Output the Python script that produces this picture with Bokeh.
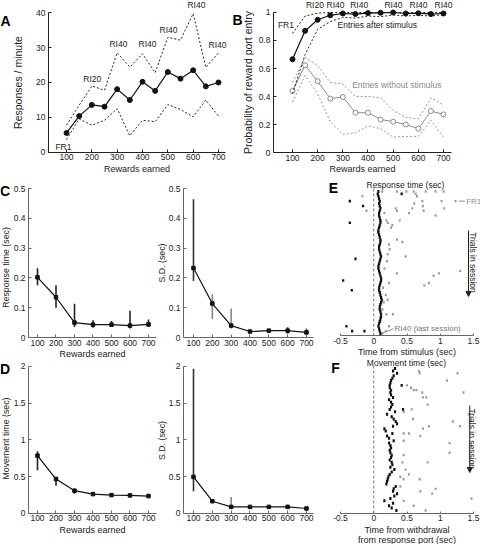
import math
from bokeh.plotting import figure
from bokeh.layouts import row, column
from bokeh.models import Range1d, Label, FixedTicker, Arrow, NormalHead
from bokeh.embed import file_html
from bokeh.resources import INLINE

FONT = "Liberation Sans"

# ---------------- data ----------------
rewards_ab = [100, 150, 200, 250, 300, 350, 400, 450, 500, 550, 600, 650, 700]
a_rate = [5.6, 10.4, 13.6, 13.1, 18.1, 15.0, 20.2, 17.6, 23.0, 21.1, 23.5, 18.9, 20.0]
a_upper = [7.8, 13.5, 19.0, 17.8, 28.5, 24.4, 28.2, 22.8, 32.9, 32.1, 39.7, 24.3, 28.5]
a_lower = [3.7, 9.6, 7.8, 9.2, 12.5, 4.8, 9.2, 8.8, 13.7, 12.3, 10.2, 15.0, 10.4]

b_after = [0.666, 0.869, 0.948, 0.980, 0.993, 0.989, 0.996, 0.998, 1.0, 0.993, 0.995, 0.989, 0.993]
b_after_hi = [0.85, 0.975, 0.995, 1.0, 1.0, 1.0, 1.0, 1.0, 1.0, 1.0, 1.0, 1.0, 1.0]
b_after_lo = [0.42, 0.70, 0.88, 0.935, 0.965, 0.96, 0.975, 0.97, 0.982, 0.975, 0.98, 0.975, 0.985]
b_without = [0.44, 0.623, 0.509, 0.385, 0.396, 0.284, 0.284, 0.236, 0.22, 0.2, 0.17, 0.296, 0.272]
b_without_hi = [0.50, 0.68, 0.62, 0.50, 0.49, 0.40, 0.40, 0.39, 0.30, 0.25, 0.24, 0.39, 0.34]
b_without_lo = [0.36, 0.55, 0.42, 0.22, 0.13, 0.14, 0.19, 0.17, 0.11, 0.115, 0.115, 0.23, 0.11]

a_labels = ["FR1", "RI20", "RI40", "RI40", "RI40", "RI40", "RI40"]
b_labels = ["RI20", "RI40", "RI40", "RI40", "RI40", "RI40"]

rewards_cd = [100, 200, 300, 400, 500, 600, 700]
c_rt = [0.202, 0.135, 0.050, 0.043, 0.043, 0.040, 0.044]
c_rt_lo = [0.175, 0.100, 0.035, 0.033, 0.035, 0.030, 0.035]
c_rt_hi = [0.232, 0.175, 0.113, 0.058, 0.055, 0.090, 0.060]
c_sd = [0.233, 0.114, 0.040, 0.020, 0.023, 0.023, 0.017]
c_sd_lo = [0.190, 0.062, 0.030, 0.015, 0.018, 0.012, 0.010]
c_sd_hi = [0.464, 0.145, 0.097, 0.025, 0.028, 0.035, 0.030]
d_mt = [0.787, 0.469, 0.310, 0.264, 0.250, 0.246, 0.237]
d_mt_lo = [0.590, 0.378, 0.270, 0.250, 0.240, 0.230, 0.220]
d_mt_hi = [0.846, 0.500, 0.340, 0.280, 0.262, 0.262, 0.270]
d_sd = [0.498, 0.167, 0.090, 0.090, 0.090, 0.090, 0.068]
d_sd_lo = [0.303, 0.150, 0.080, 0.080, 0.080, 0.070, 0.060]
d_sd_hi = [1.970, 0.185, 0.226, 0.100, 0.100, 0.120, 0.080]

# raster E: first entry after stimulus for trials 1..60 (black)
e_first = [0.07, 0.06, 0.07, 0.08, 0.09, 0.08, 0.09, 0.10, 0.09, 0.08,
           0.08, 0.09, 0.10, 0.10, 0.09, 0.08, 0.07, 0.07, 0.08, 0.09,
           0.10, 0.10, 0.09, 0.08, 0.08, 0.09, 0.10, 0.11, 0.10, 0.09,
           0.08, 0.07, 0.07, 0.08, 0.09, 0.10, 0.11, 0.11, 0.10, 0.09,
           0.08, 0.08, 0.09, 0.10, 0.11, 0.12, 0.11, 0.10, 0.09, 0.09,
           0.10, 0.11, 0.11, 0.10, 0.09, 0.08, 0.07, 0.08, 0.09, 0.10]
e_black_trial = [2, 5, 7, 14, 29, 38, 42, 57, 59, 59]
e_black_time = [0.42, -0.36, -0.16, -0.36, -0.275, -0.46, -0.33, -0.41, -0.325, -0.14]
e_gray_trial = [3, 9, 1, 1, 1, 2, 3, 1, 1, 6, 5, 7, 9, 11, 10, 13, 14, 8, 9, 13,
                16, 21, 22, 23, 25, 27, 28, 30, 35, 33, 34, 39, 39, 40, 41, 44, 46, 47, 50, 52,
                53, 52, 55, 57, 59, 60, 5, 5, 8, 10, 8, 1, 1, 15, 36, 35]
e_gray_time = [-0.17, -0.11, 0.126, 0.35, 0.49, 0.63, 0.65, 0.78, 0.93, 0.61, 0.73, 0.74, 0.75, 0.93, 0.16, 0.19, 0.21, 0.33, 0.35, 0.39,
               0.26, 0.35, 0.43, 0.23, 0.24, 0.21, 0.48, 0.20, 0.35, 0.16, 1.30, 0.23, 0.83, 0.76, 0.14, 0.18, 0.21, 0.15, 0.13, 0.19,
               0.10, 0.29, 0.10, 0.23, 0.18, 0.13, 1.23, 1.02, 1.06, 0.53, 0.58, 0.60, 1.05, 0.28, 0.90, 0.98]

# raster F: movement times (black) and later entries (gray)
f_first = [0.32, 0.29, 0.35, 0.30, 0.28, 0.26, 0.25, 0.24, 0.24, 0.26,
           0.25, 0.26, 0.29, 0.23, 0.26, 0.28, 0.26, 0.24, 0.32, 0.20,
           0.27, 0.30, 0.33, 0.35, 0.29, 0.16, 0.18, 0.28, 0.20, 0.23,
           0.30, 0.23, 0.25, 0.26, 0.24, 0.25, 0.27, 0.26, 0.24, 0.27,
           0.28, 0.25, 0.31, 0.27, 0.24, 0.22, 0.21, 0.20, 0.19, 0.33,
           0.30, 0.29, 0.35, 0.31, 0.25, 0.16, 0.29, 0.23, 0.27, 0.34]
f_black_trial = [8, 18]
f_black_time = [0.42, 0.44]
f_gray_trial = [2, 3, 3, 6, 8, 9, 10, 10, 11, 13, 13, 16, 11, 19, 18, 22, 23, 25, 20, 28,
                28, 26, 25, 29, 31, 32, 36, 37, 40, 40, 43, 45, 46, 47, 47, 50, 51, 53, 52, 55,
                56, 58, 60]
f_gray_time = [0.68, 0.69, 1.26, 1.10, 0.50, 0.56, 0.60, 0.64, 0.73, 0.79, 0.74, 0.81, 1.35, 0.45, 0.57, 0.59, 1.19, 1.30, 1.43, 0.45,
               0.53, 0.74, 0.83, 0.70, 0.45, 1.14, 1.14, 0.45, 0.43, 0.81, 0.48, 0.53, 0.40, 0.45, 0.69, 0.40, 0.93, 0.88, 0.70, 1.47,
               0.45, 0.60, 0.78]

trials = list(range(1, 61))

ticks_rewards = [100, 200, 300, 400, 500, 600, 700]
tick_rewards_labels = ["100", "200", "300", "400", "500", "600", "700"]
ticks_a_y = [0, 10, 20, 30, 40]
ticks_a_y_labels = ["0", "10", "20", "30", "40"]
ticks_b_y = [0, 0.2, 0.4, 0.6, 0.8, 1.0]
ticks_b_y_labels = ["0", "0.2", "0.4", "0.6", "0.8", "1"]
ticks_c_y = [0, 0.1, 0.2, 0.3, 0.4, 0.5]
ticks_c_y_labels = ["0", "0.1", "0.2", "0.3", "0.4", "0.5"]
ticks_d_y = [0, 0.5, 1.0, 1.5, 2.0]
ticks_d_y_labels = ["0", "0.5", "1", "1.5", "2"]
ticks_t = [-0.5, 0, 0.5, 1.0, 1.5]
ticks_t_labels = ["-0.5", "0", "0.5", "1", "1.5"]


# ---------------- helpers ----------------
def mkfig(w, h, xr, yr):
    p = figure(width=w, height=h, x_range=Range1d(xr[0], xr[1]), y_range=Range1d(yr[0], yr[1]),
               output_backend="svg", toolbar_location=None,
               min_border_left=0, min_border_right=0, min_border_top=0, min_border_bottom=0)
    p.outline_line_color = None
    p.xgrid.visible = False
    p.ygrid.visible = False
    p.background_fill_color = "white"
    p.border_fill_color = "white"
    return p


def style_axis(ax, ticks, labels, color, loc, bounds, title="", standoff=2, title_standoff=0,
               title_size="9px"):
    ax.fixed_location = loc
    ax.bounds = bounds
    ax.ticker = FixedTicker(ticks=ticks)
    ax.major_label_overrides = {t: l for t, l in zip(ticks, labels)}
    ax.axis_line_color = color
    ax.axis_line_width = 1
    ax.major_tick_line_color = color
    ax.major_tick_in = 3
    ax.major_tick_out = 0
    ax.minor_tick_line_color = None
    ax.major_label_text_font = FONT
    ax.major_label_text_font_size = "8.5px"
    ax.major_label_text_color = "#222222"
    ax.major_label_standoff = standoff
    ax.axis_label = title
    ax.axis_label_text_font = FONT
    ax.axis_label_text_font_size = title_size
    ax.axis_label_text_font_style = "normal"
    ax.axis_label_text_color = "#222222"
    ax.axis_label_standoff = title_standoff


def lab(p, x, y, text, size="8.5px", color="#222222", align="center", baseline="middle",
        angle=0.0, bold=False):
    p.add_layout(Label(x=x, y=y, text=text, text_font=FONT, text_font_size=size,
                       text_color=color, text_align=align, text_baseline=baseline,
                       angle=angle, text_font_style="bold" if bold else "normal"))


GRAY = "#8a8a8a"
AXC = "#666666"
BLK = "#222222"

# ---------------- panel A (page box x 0-231, y 0-177) ----------------
pA = mkfig(231, 177, (-160.53, 751.32), (-7.1429, 43.4286))
style_axis(pA.xaxis[0], ticks_rewards, tick_rewards_labels, BLK, 0, (28.95, 727.6), "Rewards earned")
style_axis(pA.yaxis[0], ticks_a_y, ticks_a_y_labels, BLK, 28.95, (0, 40), "", standoff=3)
pA.line(rewards_ab, a_upper, line_color=BLK, line_width=1, line_dash="2 2")
pA.line(rewards_ab, a_lower, line_color=BLK, line_width=1, line_dash="2 2")
pA.line(rewards_ab, a_rate, line_color="#111111", line_width=1.2)
pA.scatter(rewards_ab, a_rate, size=5, marker="circle", fill_color="#111111", line_color="#111111")
a_lab_pos = [(88, 1.7), (202, 20.9), (305, 30.9), (420, 30.9), (503, 35.1), (613, 42.2), (696, 30.6)]
for (x, y), t in zip(a_lab_pos, a_labels):
    lab(pA, x, y, t)
lab(pA, -89.5, 20, "Responses / minute", size="10.5px", angle=math.pi / 2)
lab(pA, -140.8, 37.7, "A", size="14px", color="#000000", bold=True)

# ---------------- panel B (page box x 231-480, y 0-177) ----------------
pB = mkfig(249, 177, (-142.38, 847.02), (-0.178571, 1.085714))
style_axis(pB.xaxis[0], ticks_rewards, tick_rewards_labels, BLK, 0, (24.5, 731.8), "Rewards earned")
style_axis(pB.yaxis[0], ticks_b_y, ticks_b_y_labels, BLK, 24.5, (0, 1), "", standoff=3)
pB.line(rewards_ab, b_without_hi, line_color="#999999", line_width=1, line_dash="2 2")
pB.line(rewards_ab, b_without_lo, line_color="#999999", line_width=1, line_dash="2 2")
pB.line(rewards_ab, b_without, line_color=GRAY, line_width=1)
pB.scatter(rewards_ab, b_without, size=5, marker="circle", fill_color="white", line_color=GRAY)
pB.line(rewards_ab, b_after_hi, line_color=BLK, line_width=1, line_dash="2 2")
pB.line(rewards_ab, b_after_lo, line_color=BLK, line_width=1, line_dash="2 2")
pB.line(rewards_ab, b_after, line_color="#111111", line_width=1.2)
pB.scatter(rewards_ab, b_after, size=5, marker="circle", fill_color="#111111", line_color="#111111")
b_lab_x = [189, 271, 365, 501, 601, 700]
for x, t in zip(b_lab_x, b_labels):
    lab(pB, x, 1.057, t)
lab(pB, 74, 0.914, "FR1")
lab(pB, 279, 0.914, "Entries after stimulus", align="left")
lab(pB, 337, 0.48, "Entries without stimulus", align="left", color=GRAY)
lab(pB, -76.8, 0.5, "Probability of reward port entry", size="10.5px", angle=math.pi / 2)
lab(pB, -118.5, 0.943, "B", size="14px", color="#000000", bold=True)


# ---------------- panels C / D ----------------
def cd_panel(w, h, xr, yr, ax_x, ax_xend, yb, ticks_y, ticks_y_labels, xs, ys, lo, hi,
             bar_colors, xtitle=""):
    p = mkfig(w, h, xr, yr)
    style_axis(p.xaxis[0], ticks_rewards, tick_rewards_labels, AXC, 0, (ax_x, ax_xend), xtitle)
    style_axis(p.yaxis[0], ticks_y, ticks_y_labels, AXC, ax_x, yb, "", standoff=3)
    p.segment(x0=xs, y0=lo, x1=xs, y1=hi, line_color=bar_colors, line_width=1.6)
    p.line(xs, ys, line_color="#111111", line_width=1.2)
    p.scatter(xs, ys, size=3.5, marker="square", fill_color="#111111", line_color="#111111")
    return p


bars_dark = ["#222222"] * 7
bars_c_sd = ["#333333", "#888888", "#888888", "#555555", "#555555", "#555555", "#555555"]
bars_d_sd = ["#333333", "#666666", "#888888", "#555555", "#555555", "#555555", "#555555"]

# C1: page x 0-157, y 177-360
pC1 = cd_panel(157, 183, (-100.0, 748.65), (-0.0771812, 0.536913), 51.35, 745, (0, 0.5),
               ticks_c_y, ticks_c_y_labels, rewards_cd, c_rt, c_rt_lo, c_rt_hi, bars_dark,
               "Rewards earned")
lab(pC1, -70.3, 0.235, "Response time (sec)", size="8.8px", angle=math.pi / 2)
lab(pC1, -75.7, 0.49, "C", size="14px", color="#000000", bold=True)

# C2: page x 157-320, y 177-360
pC2 = cd_panel(163, 183, (-91.15, 774.34), (-0.0771812, 0.536913), 46.9, 737.2, (0, 0.5),
               ticks_c_y, ticks_c_y_labels, rewards_cd, c_sd, c_sd_lo, c_sd_hi, bars_c_sd)
lab(pC2, -69.9, 0.25, "S.D. (sec)", size="8.8px", angle=math.pi / 2)

# D1: page x 0-157, y 360-544
pD1 = cd_panel(157, 184, (-100.0, 748.65), (-0.421769, 2.08163), 51.35, 745, (0, 2),
               ticks_d_y, ticks_d_y_labels, rewards_cd, d_mt, d_mt_lo, d_mt_hi, bars_dark,
               "Rewards earned")
lab(pD1, -70.3, 1.02, "Movement time (sec)", size="8.8px", angle=math.pi / 2)
lab(pD1, -75.7, 1.965, "D", size="14px", color="#000000", bold=True)

# D2: page x 157-320, y 360-544
pD2 = cd_panel(163, 184, (-91.15, 774.34), (-0.421769, 2.08163), 46.9, 737.2, (0, 2),
               ticks_d_y, ticks_d_y_labels, rewards_cd, d_sd, d_sd_lo, d_sd_hi, bars_d_sd)
lab(pD2, -69.9, 0.993, "S.D. (sec)", size="8.8px", angle=math.pi / 2)


# ---------------- panels E / F ----------------
def raster(h, yr, axis_y, first, bt, btime, gt, gtime, dash_top, xtitle):
    p = mkfig(160, h, (-0.800752, 1.605263), yr)
    style_axis(p.xaxis[0], ticks_t, ticks_t_labels, AXC, axis_y, (-0.5, 1.5), xtitle)
    p.xaxis[0].major_tick_in = 2
    p.yaxis[0].visible = False
    p.segment(x0=[0], y0=[dash_top], x1=[0], y1=[axis_y], line_color="#777777",
              line_width=1, line_dash="3 2")
    p.rect(x=gtime, y=gt, width=2, height=2.4, width_units="screen", height_units="screen",
           fill_color="#9a9a9a", line_color=None)
    p.rect(x=btime, y=bt, width=2.2, height=2.6, width_units="screen", height_units="screen",
           fill_color="#111111", line_color=None)
    p.rect(x=first, y=trials, width=2.2, height=3.0, width_units="screen", height_units="screen",
           fill_color="#111111", line_color=None)
    return p


# E: page x 320-480, y 177-358
pE = raster(181, (70.3873, -4.8169), 60.831, e_first, e_black_trial, e_black_time,
            e_gray_trial, e_gray_time, -0.25, "Time from stimulus (sec)")
lab(pE, 0.477, -1.908, "Response time (sec)")
lab(pE, -0.605, -0.25, "E", size="14px", color="#000000", bold=True)
pE.line([1.28, 1.37], [5, 5], line_color=GRAY, line_width=1)
lab(pE, 1.39, 5, "FR1", size="8px", color=GRAY, align="left")
pE.line([0.126, 0.297], [59.87, 58.05], line_color=GRAY, line_width=1)
lab(pE, 0.312, 57.92, "RI40 (last session)", size="8px", color="#777777", align="left")
pE.add_layout(Arrow(end=NormalHead(size=5, fill_color=BLK, line_color=BLK),
                    x_start=1.425, y_start=17.2, x_end=1.425, y_end=44.6,
                    line_color=BLK, line_width=1))
lab(pE, 1.485, 30.5, "Trials in session", angle=-math.pi / 2)

# F: page x 320-480, y 358-544
pF = raster(186, (74.127, -3.155), 61.246, f_first, f_black_trial, f_black_time,
            f_gray_trial, f_gray_time, -0.25, "")
lab(pF, 0.4925, -1.35, "Movement time (sec)")
lab(pF, -0.575, 0.6, "F", size="14px", color="#000000", bold=True)
lab(pF, 0.5, 68.31, "Time from withdrawal", size="9px")
lab(pF, 0.5, 72.46, "from response port (sec)", size="9px")
pF.add_layout(Arrow(end=NormalHead(size=5, fill_color=BLK, line_color=BLK),
                    x_start=1.444, y_start=16.4, x_end=1.444, y_end=44.2,
                    line_color=BLK, line_width=1))
lab(pF, 1.48, 30.2, "Trials in session", angle=-math.pi / 2)

# ---------------- layout ----------------
top = row(pA, pB)
left = column(row(pC1, pC2), row(pD1, pD2))
right = column(pE, pF)
layout = column(top, row(left, right))

open("out.html", "w").write(file_html(layout, INLINE))
